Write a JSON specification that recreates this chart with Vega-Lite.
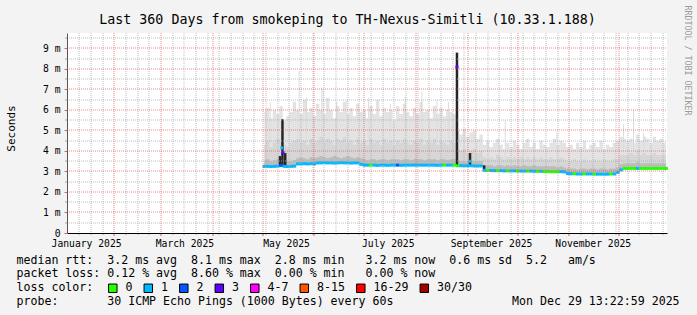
{
  "$schema": "https://vega.github.io/schema/vega-lite/v6.json",
  "width": 600,
  "height": 200,
  "autosize": {"type": "none"},
  "padding": {"left": 67, "top": 33, "right": 30, "bottom": 82},
  "background": "#f3f3f3",
  "config": {
    "view": {"fill": "#ffffff", "stroke": null},
    "font": "DejaVu Sans Mono",
    "axis": {"labelFont": "DejaVu Sans Mono", "titleFont": "DejaVu Sans Mono", "titleFontWeight": "normal", "titleColor": "#000000", "labelColor": "#000000"}
  },
  "title": {
    "text": "Last 360 Days from smokeping to TH-Nexus-Simitli (10.33.1.188)",
    "font": "DejaVu Sans Mono", "fontSize": 13.3, "fontWeight": "normal", "color": "#000000",
    "anchor": "middle", "frame": "group", "dx": -19.5, "baseline": "alphabetic", "offset": -32
  },
  "datasets": {
    "main": [
      {"t":"2025-05-02","m":3.25,"l":"1","q1":3.55,"q2":4.3,"hi":5.9},
      {"t":"2025-05-04","m":3.25,"l":"1","q1":3.6,"q2":4.5,"hi":6.1},
      {"t":"2025-05-06","m":3.24,"l":"1","q1":3.5,"q2":4.2,"hi":5.6},
      {"t":"2025-05-08","m":3.25,"l":"1","q1":3.55,"q2":4.4,"hi":6.0},
      {"t":"2025-05-10","m":3.26,"l":"1","q1":3.6,"q2":4.6,"hi":5.8},
      {"t":"2025-05-12","m":3.3,"l":"2","q1":3.7,"q2":4.5,"hi":6.2},
      {"t":"2025-05-14","m":3.25,"l":"1","q1":3.55,"q2":4.3,"hi":5.5},
      {"t":"2025-05-16","m":3.24,"l":"1","q1":3.5,"q2":4.2,"hi":5.7},
      {"t":"2025-05-18","m":3.25,"l":"1","q1":3.5,"q2":4.4,"hi":5.9},
      {"t":"2025-05-20","m":3.26,"l":"1","q1":3.55,"q2":4.5,"hi":6.4},
      {"t":"2025-05-22","m":3.37,"l":"1","q1":3.65,"q2":4.6,"hi":6.0},
      {"t":"2025-05-24","m":3.37,"l":"1","q1":3.7,"q2":4.4,"hi":5.8},
      {"t":"2025-05-26","m":3.38,"l":"1","q1":3.65,"q2":4.5,"hi":6.5},
      {"t":"2025-05-28","m":3.37,"l":"1","q1":3.6,"q2":4.3,"hi":5.9},
      {"t":"2025-05-30","m":3.38,"l":"1","q1":3.7,"q2":4.6,"hi":6.1},
      {"t":"2025-06-01","m":3.37,"l":"1","q1":3.65,"q2":4.4,"hi":5.7},
      {"t":"2025-06-03","m":3.42,"l":"1","q1":3.7,"q2":4.5,"hi":6.3},
      {"t":"2025-06-05","m":3.42,"l":"1","q1":3.75,"q2":4.7,"hi":6.0},
      {"t":"2025-06-07","m":3.43,"l":"1","q1":3.7,"q2":4.4,"hi":5.8},
      {"t":"2025-06-09","m":3.42,"l":"1","q1":3.65,"q2":4.6,"hi":6.6},
      {"t":"2025-06-11","m":3.42,"l":"1","q1":3.7,"q2":4.5,"hi":6.0},
      {"t":"2025-06-13","m":3.41,"l":"1","q1":3.75,"q2":4.3,"hi":5.6},
      {"t":"2025-06-15","m":3.42,"l":"1","q1":3.7,"q2":4.6,"hi":6.2},
      {"t":"2025-06-17","m":3.43,"l":"1","q1":3.65,"q2":4.5,"hi":5.9},
      {"t":"2025-06-19","m":3.42,"l":"1","q1":3.7,"q2":4.7,"hi":6.4},
      {"t":"2025-06-21","m":3.42,"l":"1","q1":3.75,"q2":4.4,"hi":5.8},
      {"t":"2025-06-23","m":3.41,"l":"1","q1":3.7,"q2":4.5,"hi":6.1},
      {"t":"2025-06-25","m":3.42,"l":"1","q1":3.65,"q2":4.3,"hi":5.7},
      {"t":"2025-06-27","m":3.42,"l":"1","q1":3.7,"q2":4.6,"hi":6.3},
      {"t":"2025-06-29","m":3.35,"l":"1","q1":3.65,"q2":4.4,"hi":5.9},
      {"t":"2025-07-01","m":3.31,"l":"1","q1":3.6,"q2":4.5,"hi":6.0},
      {"t":"2025-07-03","m":3.31,"l":"1","q1":3.55,"q2":4.3,"hi":5.6},
      {"t":"2025-07-05","m":3.31,"l":"0","q1":3.6,"q2":4.6,"hi":6.2},
      {"t":"2025-07-07","m":3.31,"l":"1","q1":3.6,"q2":4.4,"hi":5.8},
      {"t":"2025-07-09","m":3.30,"l":"1","q1":3.55,"q2":4.5,"hi":6.5},
      {"t":"2025-07-11","m":3.31,"l":"1","q1":3.6,"q2":4.3,"hi":5.7},
      {"t":"2025-07-13","m":3.31,"l":"1","q1":3.6,"q2":4.6,"hi":6.1},
      {"t":"2025-07-15","m":3.30,"l":"1","q1":3.55,"q2":4.4,"hi":5.9},
      {"t":"2025-07-17","m":3.31,"l":"1","q1":3.6,"q2":4.5,"hi":6.0},
      {"t":"2025-07-19","m":3.31,"l":"1","q1":3.6,"q2":4.3,"hi":5.5},
      {"t":"2025-07-21","m":3.31,"l":"2","q1":3.6,"q2":4.5,"hi":6.2},
      {"t":"2025-07-23","m":3.30,"l":"1","q1":3.55,"q2":4.4,"hi":5.8},
      {"t":"2025-07-25","m":3.31,"l":"1","q1":3.6,"q2":4.6,"hi":6.3},
      {"t":"2025-07-27","m":3.31,"l":"1","q1":3.6,"q2":4.4,"hi":5.9},
      {"t":"2025-07-29","m":3.31,"l":"1","q1":3.55,"q2":4.3,"hi":5.7},
      {"t":"2025-07-31","m":3.31,"l":"1","q1":3.6,"q2":4.5,"hi":6.1},
      {"t":"2025-08-02","m":3.31,"l":"1","q1":3.6,"q2":4.4,"hi":5.8},
      {"t":"2025-08-04","m":3.31,"l":"1","q1":3.6,"q2":4.6,"hi":6.4},
      {"t":"2025-08-06","m":3.31,"l":"1","q1":3.55,"q2":4.3,"hi":5.9},
      {"t":"2025-08-08","m":3.31,"l":"1","q1":3.6,"q2":4.5,"hi":6.0},
      {"t":"2025-08-10","m":3.31,"l":"1","q1":3.6,"q2":4.4,"hi":5.6},
      {"t":"2025-08-12","m":3.31,"l":"1","q1":3.6,"q2":4.6,"hi":6.2},
      {"t":"2025-08-14","m":3.30,"l":"1","q1":3.55,"q2":4.3,"hi":5.8},
      {"t":"2025-08-16","m":3.31,"l":"1","q1":3.6,"q2":4.5,"hi":6.1},
      {"t":"2025-08-18","m":3.31,"l":"0","q1":3.6,"q2":4.4,"hi":5.7},
      {"t":"2025-08-20","m":3.31,"l":"1","q1":3.55,"q2":4.3,"hi":6.0},
      {"t":"2025-08-22","m":3.31,"l":"1","q1":3.6,"q2":4.5,"hi":5.9},
      {"t":"2025-08-24","m":3.31,"l":"0","q1":3.6,"q2":4.4,"hi":5.8},
      {"t":"2025-08-26","m":3.28,"l":"0","q1":3.55,"q2":4.1,"hi":5.0},
      {"t":"2025-08-28","m":3.28,"l":"1","q1":3.5,"q2":4.0,"hi":4.8},
      {"t":"2025-08-30","m":3.28,"l":"1","q1":3.5,"q2":4.1,"hi":5.1},
      {"t":"2025-09-01","m":3.28,"l":"1","q1":3.5,"q2":3.9,"hi":4.7},
      {"t":"2025-09-03","m":3.28,"l":"1","q1":3.55,"q2":4.0,"hi":4.9},
      {"t":"2025-09-05","m":3.27,"l":"1","q1":3.5,"q2":4.1,"hi":5.0},
      {"t":"2025-09-07","m":3.27,"l":"1","q1":3.5,"q2":3.9,"hi":4.6},
      {"t":"2025-09-09","m":3.27,"l":"1","q1":3.5,"q2":4.0,"hi":4.8},
      {"t":"2025-09-11","m":3.06,"l":"1","q1":3.3,"q2":3.7,"hi":4.3},
      {"t":"2025-09-13","m":3.05,"l":"0","q1":3.3,"q2":3.6,"hi":4.5},
      {"t":"2025-09-15","m":3.05,"l":"1","q1":3.3,"q2":3.7,"hi":4.2},
      {"t":"2025-09-17","m":3.04,"l":"1","q1":3.25,"q2":3.6,"hi":4.4},
      {"t":"2025-09-19","m":3.04,"l":"0","q1":3.3,"q2":3.8,"hi":4.6},
      {"t":"2025-09-21","m":3.04,"l":"1","q1":3.3,"q2":3.7,"hi":4.3},
      {"t":"2025-09-23","m":3.03,"l":"1","q1":3.25,"q2":3.6,"hi":4.1},
      {"t":"2025-09-25","m":3.03,"l":"0","q1":3.3,"q2":3.7,"hi":4.4},
      {"t":"2025-09-27","m":3.03,"l":"1","q1":3.25,"q2":3.6,"hi":4.2},
      {"t":"2025-09-29","m":3.03,"l":"1","q1":3.3,"q2":3.7,"hi":4.5},
      {"t":"2025-10-01","m":3.02,"l":"0","q1":3.25,"q2":3.6,"hi":4.3},
      {"t":"2025-10-03","m":3.02,"l":"1","q1":3.25,"q2":3.7,"hi":4.1},
      {"t":"2025-10-05","m":3.02,"l":"1","q1":3.3,"q2":3.6,"hi":4.4},
      {"t":"2025-10-07","m":3.02,"l":"0","q1":3.25,"q2":3.7,"hi":4.6},
      {"t":"2025-10-09","m":3.02,"l":"1","q1":3.25,"q2":3.6,"hi":4.2},
      {"t":"2025-10-11","m":3.01,"l":"1","q1":3.3,"q2":3.7,"hi":4.4},
      {"t":"2025-10-13","m":3.01,"l":"0","q1":3.25,"q2":3.6,"hi":4.1},
      {"t":"2025-10-15","m":3.01,"l":"1","q1":3.25,"q2":3.7,"hi":4.5},
      {"t":"2025-10-17","m":3.00,"l":"0","q1":3.25,"q2":3.6,"hi":4.3},
      {"t":"2025-10-19","m":3.00,"l":"0","q1":3.25,"q2":3.6,"hi":4.2},
      {"t":"2025-10-21","m":2.99,"l":"0","q1":3.25,"q2":3.7,"hi":4.4},
      {"t":"2025-10-23","m":2.99,"l":"0","q1":3.25,"q2":3.6,"hi":4.6},
      {"t":"2025-10-25","m":2.99,"l":"0","q1":3.2,"q2":3.6,"hi":4.3},
      {"t":"2025-10-27","m":2.99,"l":"1","q1":3.25,"q2":3.7,"hi":4.5},
      {"t":"2025-10-29","m":2.98,"l":"1","q1":3.2,"q2":3.6,"hi":4.4},
      {"t":"2025-10-31","m":2.90,"l":"1","q1":3.15,"q2":3.5,"hi":4.2},
      {"t":"2025-11-02","m":2.89,"l":"1","q1":3.15,"q2":3.5,"hi":4.3},
      {"t":"2025-11-04","m":2.89,"l":"0","q1":3.15,"q2":3.6,"hi":4.1},
      {"t":"2025-11-06","m":2.88,"l":"1","q1":3.1,"q2":3.5,"hi":4.4},
      {"t":"2025-11-08","m":2.88,"l":"1","q1":3.15,"q2":3.5,"hi":4.2},
      {"t":"2025-11-10","m":2.88,"l":"0","q1":3.15,"q2":3.6,"hi":4.5},
      {"t":"2025-11-12","m":2.88,"l":"1","q1":3.1,"q2":3.5,"hi":4.1},
      {"t":"2025-11-14","m":2.88,"l":"1","q1":3.15,"q2":3.5,"hi":4.3},
      {"t":"2025-11-16","m":2.87,"l":"0","q1":3.15,"q2":3.6,"hi":4.4},
      {"t":"2025-11-18","m":2.87,"l":"1","q1":3.1,"q2":3.5,"hi":4.2},
      {"t":"2025-11-20","m":2.87,"l":"1","q1":3.15,"q2":3.5,"hi":4.5},
      {"t":"2025-11-22","m":2.87,"l":"1","q1":3.15,"q2":3.6,"hi":4.1},
      {"t":"2025-11-24","m":2.87,"l":"1","q1":3.1,"q2":3.5,"hi":4.3},
      {"t":"2025-11-26","m":2.88,"l":"0","q1":3.15,"q2":3.5,"hi":4.2},
      {"t":"2025-11-28","m":2.88,"l":"1","q1":3.15,"q2":3.6,"hi":4.4},
      {"t":"2025-11-30","m":2.96,"l":"1","q1":3.2,"q2":3.6,"hi":4.5},
      {"t":"2025-12-02","m":3.08,"l":"1","q1":3.35,"q2":3.8,"hi":4.7},
      {"t":"2025-12-04","m":3.15,"l":"0","q1":3.4,"q2":3.8,"hi":4.6},
      {"t":"2025-12-06","m":3.15,"l":"0","q1":3.4,"q2":3.8,"hi":4.5},
      {"t":"2025-12-08","m":3.15,"l":"0","q1":3.4,"q2":3.9,"hi":4.6},
      {"t":"2025-12-10","m":3.15,"l":"0","q1":3.4,"q2":3.8,"hi":4.4},
      {"t":"2025-12-12","m":3.15,"l":"1","q1":3.45,"q2":4.0,"hi":4.8},
      {"t":"2025-12-14","m":3.15,"l":"0","q1":3.4,"q2":3.8,"hi":4.5},
      {"t":"2025-12-16","m":3.15,"l":"0","q1":3.4,"q2":3.9,"hi":4.7},
      {"t":"2025-12-18","m":3.15,"l":"0","q1":3.4,"q2":3.8,"hi":4.6},
      {"t":"2025-12-20","m":3.15,"l":"0","q1":3.4,"q2":3.8,"hi":4.4},
      {"t":"2025-12-22","m":3.15,"l":"0","q1":3.4,"q2":3.9,"hi":4.7},
      {"t":"2025-12-24","m":3.15,"l":"0","q1":3.4,"q2":3.8,"hi":4.5},
      {"t":"2025-12-26","m":3.15,"l":"0","q1":3.4,"q2":3.8,"hi":4.6},
      {"t":"2025-12-28","m":3.15,"l":"0","q1":3.4,"q2":3.8,"hi":4.4},
      {"t":"2025-12-29","m":3.15,"l":"0","q1":3.4,"q2":3.8,"hi":4.5}
    ],
    "ls": [
      {"t":"2025-05-05T12:00:00Z","b":4.4,"top":6.4},
      {"t":"2025-05-22T20:00:00Z","b":4.4,"top":7.9},
      {"t":"2025-05-27T06:00:00Z","b":4.4,"top":6.6},
      {"t":"2025-06-05T10:00:00Z","b":4.4,"top":7.1},
      {"t":"2025-06-06T06:00:00Z","b":4.4,"top":7.0},
      {"t":"2025-06-14T08:00:00Z","b":4.4,"top":6.4},
      {"t":"2025-06-20T12:00:00Z","b":4.4,"top":6.5},
      {"t":"2025-07-03T12:00:00Z","b":4.4,"top":6.6},
      {"t":"2025-07-16T12:00:00Z","b":4.4,"top":6.3},
      {"t":"2025-07-25T12:00:00Z","b":4.4,"top":6.65},
      {"t":"2025-08-04T12:00:00Z","b":4.4,"top":6.9},
      {"t":"2025-08-13T12:00:00Z","b":4.4,"top":6.5},
      {"t":"2025-08-20T12:00:00Z","b":4.4,"top":6.4},
      {"t":"2025-09-23T12:00:00Z","b":3.7,"top":5.5},
      {"t":"2025-10-24T12:00:00Z","b":3.7,"top":4.9},
      {"t":"2025-12-03T12:00:00Z","b":3.8,"top":5.3},
      {"t":"2025-12-09T12:00:00Z","b":3.8,"top":6.0},
      {"t":"2025-12-15T12:00:00Z","b":3.8,"top":4.9}
    ],
    "ds": [
      {"t":"2025-05-11T08:00:00Z","lo":3.25,"hi":3.75},
      {"t":"2025-05-12T20:00:00Z","lo":3.25,"hi":5.55},
      {"t":"2025-05-14T12:00:00Z","lo":3.25,"hi":3.9},
      {"t":"2025-08-25T13:00:00Z","lo":3.25,"hi":8.8},
      {"t":"2025-09-02T09:00:00Z","lo":3.3,"hi":3.9},
      {"t":"2025-09-10T20:00:00Z","lo":3.05,"hi":3.3}
    ],
    "sm": [
      {"t":"2025-05-12T12:00:00Z","m":4.15,"l":"1"},
      {"t":"2025-05-13T04:00:00Z","m":3.92,"l":"3"},
      {"t":"2025-08-25T13:00:00Z","m":8.1,"l":"3"},
      {"t":"2025-09-02T09:00:00Z","m":3.5,"l":"1"}
    ]
  },
  "layer": [
    {
      "data": {"name": "main"},
      "mark": {"type": "area", "interpolate": "step", "color": "#e3e3e3"},
      "encoding": {
        "x": {"field": "t", "type": "temporal",
          "scale": {"type": "utc", "domain": [{"year":2025,"month":1,"date":3,"hours":13,"minutes":23,"utc":true},{"year":2025,"month":12,"date":29,"hours":13,"minutes":23,"utc":true}]},
          "axis": {
            "orient": "bottom", "zindex": 2,
            "values": [{"year":2025,"month":1,"date":15,"utc":true},{"year":2025,"month":3,"date":15,"utc":true},{"year":2025,"month":5,"date":15,"utc":true},{"year":2025,"month":7,"date":15,"utc":true},{"year":2025,"month":9,"date":15,"utc":true},{"year":2025,"month":11,"date":15,"utc":true}],
            "labelExpr": "utcFormat(datum.value, '%B %Y')",
            "labelFontSize": 9.7, "labelPadding": 5, "labelFlush": false, "labelOverlap": false,
            "ticks": false, "grid": false, "domain": true, "domainColor": "#000000", "domainWidth": 1,
            "title": [
              "median rtt:\u00a0\u00a03.2 ms avg\u00a0\u00a08.1 ms max\u00a0\u00a02.8 ms min\u00a0\u00a0\u00a03.2 ms now\u00a0\u00a00.6 ms sd\u00a0\u00a05.2\u00a0\u00a0\u00a0am/s",
              "packet loss: 0.12 % avg\u00a0\u00a08.60 % max\u00a0\u00a00.00 % min\u00a0\u00a0\u00a00.00 % now",
              "loss color:",
              "probe:\u00a0\u00a0\u00a0\u00a0\u00a0\u00a0\u00a030 ICMP Echo Pings (1000 Bytes) every 60s\u00a0\u00a0\u00a0\u00a0\u00a0\u00a0\u00a0\u00a0\u00a0\u00a0\u00a0\u00a0\u00a0\u00a0\u00a0\u00a0\u00a0Mon Dec 29 13:22:59 2025"
            ],
            "titleFontSize": 11.6, "titleAlign": "left", "titleAnchor": "start", "titleBaseline": "top",
            "titleX": -51, "titleY": 21, "titleLineHeight": 13.9
          }
        },
        "y": {"field": "hi", "type": "quantitative",
          "scale": {"domain": [0, 9.756], "nice": false, "zero": false},
          "axis": {
            "orient": "left", "zindex": 2,
            "values": [0,1,2,3,4,5,6,7,8,9],
            "labelExpr": "datum.value === 0 ? '0\u00a0\u00a0' : datum.value + ' m'",
            "labelFontSize": 9.7, "labelPadding": 4,
            "grid": false,
            "ticks": true, "tickColor": "#e06060", "tickSize": 3, "tickWidth": 1,
            "domain": true, "domainColor": "#555555", "domainWidth": 1,
            "title": "Seconds", "titleFontSize": 11, "titleAngle": -90, "titleAlign": "center", "titleBaseline": "middle",
            "titleX": -56, "titleY": 95
          }
        },
        "y2": {"field": "m"}
      }
    },
    {
      "data": {"name": "ls"},
      "mark": {"type": "rule", "color": "#dcdcdc", "strokeWidth": 1},
      "encoding": {
        "x": {"field": "t", "type": "temporal", "scale": {"type": "utc", "domain": [{"year":2025,"month":1,"date":3,"hours":13,"minutes":23,"utc":true},{"year":2025,"month":12,"date":29,"hours":13,"minutes":23,"utc":true}]}, "axis": null},
        "y": {"field": "top", "type": "quantitative", "scale": {"domain": [0, 9.756], "nice": false, "zero": false},
          "axis": {
            "orient": "left", "zindex": 1, "translate": 0, "labels": false, "domain": false, "ticks": false, "title": null,
            "values": [1,2,3,4,5,6,7,8,9],
            "grid": true, "gridColor": "#e05a5a", "gridDash": [1, 1], "gridWidth": 1, "gridOpacity": 0.7
          }
        },
        "y2": {"field": "b"}
      }
    },
    {
      "data": {"name": "main"},
      "mark": {"type": "area", "interpolate": "step", "color": "#d6d6d6"},
      "encoding": {
        "x": {"field": "t", "type": "temporal",
          "scale": {"type": "utc", "domain": [{"year":2025,"month":1,"date":3,"hours":13,"minutes":23,"utc":true},{"year":2025,"month":12,"date":29,"hours":13,"minutes":23,"utc":true}]},
          "axis": {
            "orient": "bottom", "zindex": 1, "translate": 0, "labels": false, "domain": false, "title": null,
            "grid": true, "gridColor": "#aaaaaa", "gridDash": [1, 1], "gridWidth": 1, "gridOpacity": 0.75,
            "ticks": true, "tickColor": "#aaaaaa", "tickSize": 2,
            "values": [{"year":2025,"month":1,"date":11,"utc":true},{"year":2025,"month":1,"date":18,"utc":true},{"year":2025,"month":1,"date":25,"utc":true},{"year":2025,"month":2,"date":8,"utc":true},{"year":2025,"month":2,"date":15,"utc":true},{"year":2025,"month":2,"date":22,"utc":true},{"year":2025,"month":3,"date":8,"utc":true},{"year":2025,"month":3,"date":15,"utc":true},{"year":2025,"month":3,"date":22,"utc":true},{"year":2025,"month":3,"date":29,"utc":true},{"year":2025,"month":4,"date":5,"utc":true},{"year":2025,"month":4,"date":12,"utc":true},{"year":2025,"month":4,"date":19,"utc":true},{"year":2025,"month":4,"date":26,"utc":true},{"year":2025,"month":5,"date":3,"utc":true},{"year":2025,"month":5,"date":10,"utc":true},{"year":2025,"month":5,"date":17,"utc":true},{"year":2025,"month":5,"date":24,"utc":true},{"year":2025,"month":5,"date":31,"utc":true},{"year":2025,"month":6,"date":7,"utc":true},{"year":2025,"month":6,"date":14,"utc":true},{"year":2025,"month":6,"date":21,"utc":true},{"year":2025,"month":6,"date":28,"utc":true},{"year":2025,"month":7,"date":5,"utc":true},{"year":2025,"month":7,"date":12,"utc":true},{"year":2025,"month":7,"date":19,"utc":true},{"year":2025,"month":7,"date":26,"utc":true},{"year":2025,"month":8,"date":2,"utc":true},{"year":2025,"month":8,"date":9,"utc":true},{"year":2025,"month":8,"date":16,"utc":true},{"year":2025,"month":8,"date":23,"utc":true},{"year":2025,"month":8,"date":30,"utc":true},{"year":2025,"month":9,"date":6,"utc":true},{"year":2025,"month":9,"date":13,"utc":true},{"year":2025,"month":9,"date":20,"utc":true},{"year":2025,"month":9,"date":27,"utc":true},{"year":2025,"month":10,"date":4,"utc":true},{"year":2025,"month":10,"date":11,"utc":true},{"year":2025,"month":10,"date":18,"utc":true},{"year":2025,"month":10,"date":25,"utc":true},{"year":2025,"month":11,"date":8,"utc":true},{"year":2025,"month":11,"date":15,"utc":true},{"year":2025,"month":11,"date":22,"utc":true},{"year":2025,"month":11,"date":29,"utc":true},{"year":2025,"month":12,"date":6,"utc":true},{"year":2025,"month":12,"date":13,"utc":true},{"year":2025,"month":12,"date":20,"utc":true},{"year":2025,"month":12,"date":27,"utc":true}]
          }
        },
        "y": {"field": "q2", "type": "quantitative",
          "scale": {"domain": [0, 9.756], "nice": false, "zero": false},
          "axis": {
            "orient": "left", "zindex": 1, "translate": 0, "labels": false, "domain": false, "title": null,
            "values": [0.5,1.5,2.5,3.5,4.5,5.5,6.5,7.5,8.5,9.5],
            "grid": true, "gridColor": "#aaaaaa", "gridDash": [1, 1], "gridWidth": 1, "gridOpacity": 0.75,
            "ticks": true, "tickColor": "#aaaaaa", "tickSize": 2
          }
        },
        "y2": {"field": "m"}
      }
    },
    {
      "data": {"name": "main"},
      "mark": {"type": "area", "interpolate": "step", "color": "#bcbcbc"},
      "encoding": {
        "x": {"field": "t", "type": "temporal",
          "scale": {"type": "utc", "domain": [{"year":2025,"month":1,"date":3,"hours":13,"minutes":23,"utc":true},{"year":2025,"month":12,"date":29,"hours":13,"minutes":23,"utc":true}]},
          "axis": {
            "orient": "bottom", "zindex": 1, "translate": 0, "labels": false, "domain": false, "title": null,
            "grid": true, "gridColor": "#e05a5a", "gridDash": [1, 1], "gridWidth": 1, "gridOpacity": 0.7,
            "ticks": true, "tickColor": "#e05a5a", "tickSize": 3,
            "values": [{"year":2025,"month":2,"date":1,"utc":true},{"year":2025,"month":3,"date":1,"utc":true},{"year":2025,"month":4,"date":1,"utc":true},{"year":2025,"month":5,"date":1,"utc":true},{"year":2025,"month":6,"date":1,"utc":true},{"year":2025,"month":7,"date":1,"utc":true},{"year":2025,"month":8,"date":1,"utc":true},{"year":2025,"month":9,"date":1,"utc":true},{"year":2025,"month":10,"date":1,"utc":true},{"year":2025,"month":11,"date":1,"utc":true},{"year":2025,"month":12,"date":1,"utc":true}]
          }
        },
        "y": {"field": "q1", "type": "quantitative",
          "scale": {"domain": [0, 9.756], "nice": false, "zero": false},
          "axis": {
            "orient": "right", "labels": false, "ticks": false, "domain": false, "grid": false,
            "title": "RRDTOOL / TOBI OETIKER", "titleFontSize": 8.3, "titleColor": "#9a9a9a",
            "titleAngle": 90, "titleAlign": "center", "titleBaseline": "middle", "titleX": 19, "titleY": 27
          }
        },
        "y2": {"field": "m"}
      }
    },
    {
      "data": {"name": "ds"},
      "mark": {"type": "rule", "color": "#262626", "strokeWidth": 2.5},
      "encoding": {
        "x": {"field": "t", "type": "temporal", "scale": {"type": "utc", "domain": [{"year":2025,"month":1,"date":3,"hours":13,"minutes":23,"utc":true},{"year":2025,"month":12,"date":29,"hours":13,"minutes":23,"utc":true}]}, "axis": null},
        "y": {"field": "hi", "type": "quantitative", "scale": {"domain": [0, 9.756], "nice": false, "zero": false}, "axis": null},
        "y2": {"field": "lo"}
      }
    },
    {
      "data": {"name": "main"},
      "mark": {"type": "tick", "orient": "horizontal", "thickness": 3, "size": 3.6, "opacity": 1},
      "encoding": {
        "x": {"field": "t", "type": "temporal", "scale": {"type": "utc", "domain": [{"year":2025,"month":1,"date":3,"hours":13,"minutes":23,"utc":true},{"year":2025,"month":12,"date":29,"hours":13,"minutes":23,"utc":true}]}, "axis": null},
        "y": {"field": "m", "type": "quantitative", "scale": {"domain": [0, 9.756], "nice": false, "zero": false}, "axis": null},
        "color": {"field": "l", "type": "nominal",
          "scale": {"domain": ["0","1","2","3","4-7","8-15","16-29","30/30"], "range": ["#26ff00","#00b8ff","#0059ff","#5e00ff","#ff00ff","#ff5500","#ff0000","#a10000"]},
          "legend": {
            "orient": "none", "legendX": 40, "legendY": 249, "direction": "horizontal", "title": null,
            "gridAlign": "each",
            "symbolType": "square", "symbolSize": 72, "symbolStrokeColor": "#000000", "symbolStrokeWidth": 1, "symbolOpacity": 1,
            "labelFont": "DejaVu Sans Mono", "labelFontSize": 11.6, "labelColor": "#000000", "labelOffset": 7,
            "columnPadding": 8.5, "padding": 0
          }
        }
      }
    },
    {
      "data": {"name": "sm"},
      "mark": {"type": "tick", "orient": "horizontal", "thickness": 3, "size": 3, "opacity": 1},
      "encoding": {
        "x": {"field": "t", "type": "temporal", "scale": {"type": "utc", "domain": [{"year":2025,"month":1,"date":3,"hours":13,"minutes":23,"utc":true},{"year":2025,"month":12,"date":29,"hours":13,"minutes":23,"utc":true}]}, "axis": null},
        "y": {"field": "m", "type": "quantitative", "scale": {"domain": [0, 9.756], "nice": false, "zero": false}, "axis": null},
        "color": {"field": "l", "type": "nominal", "legend": null}
      }
    }
  ],
  "resolve": {"axis": {"x": "independent", "y": "independent"}}
}
